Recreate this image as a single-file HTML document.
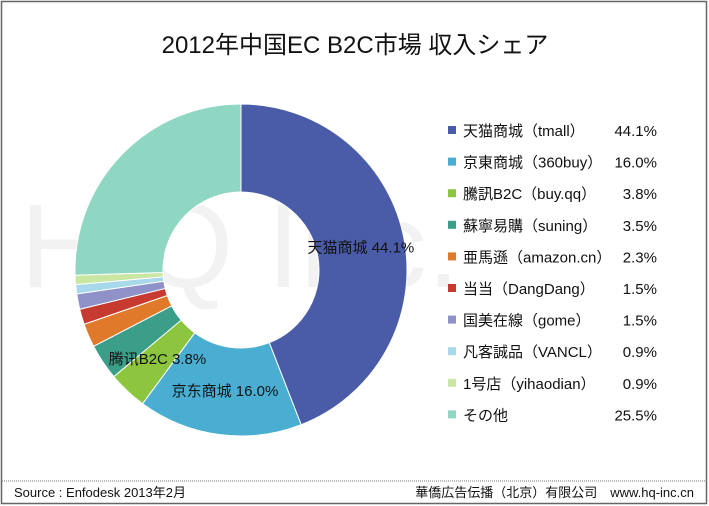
<!DOCTYPE html>
<html><head><meta charset="utf-8"><style>
body{margin:0;background:#fff;}
#wrap{position:relative;width:709px;height:506px;overflow:hidden;font-family:"Liberation Sans","Noto Sans CJK JP",sans-serif;}
</style></head><body>
<div id="wrap">
<svg id="svg" width="709" height="506" xmlns="http://www.w3.org/2000/svg">
<rect x="1.5" y="1.5" width="705" height="502" fill="#fff" stroke="#666" stroke-width="1.5"/>
<line x1="2" y1="481" x2="706" y2="481" stroke="#777" stroke-dasharray="1,1"/>
<text x="355" y="53" text-anchor="middle" font-size="24" fill="#111">2012年中国EC B2C市場 収入シェア</text>
<text x="20" y="287" font-size="120" fill="#000" fill-opacity="0.05">H Q   Inc.</text>
<g id="slices"></g>
<g id="labels" font-size="15" fill="#111"></g>
<g id="legend" font-size="15" fill="#111"></g>
<text x="14" y="497" font-size="13" fill="#111">Source : Enfodesk 2013年2月</text>
<text x="694" y="497" text-anchor="end" font-size="13" fill="#111">華僑広告伝播（北京）有限公司　www.hq-inc.cn</text>
</svg>
</div>
<script>
const categories=["天猫商城（tmall）","京東商城（360buy）","騰訊B2C（buy.qq）","蘇寧易購（suning）","亜馬遜（amazon.cn）","当当（DangDang）","国美在線（gome）","凡客誠品（VANCL）","1号店（yihaodian）","その他"];
const values=[44.1,16.0,3.8,3.5,2.3,1.5,1.5,0.9,0.9,25.5];
const valueLabels=["44.1%","16.0%","3.8%","3.5%","2.3%","1.5%","1.5%","0.9%","0.9%","25.5%"];
const sliceLabels=[["天猫商城 44.1%",0],["京东商城 16.0%",1],["腾讯B2C 3.8%",2]];
const colors=["#4a5ba8","#4aaed2","#8cc63e","#3a9e88","#e07a2a","#c63a30","#8e92c9","#a8d9ea","#c9e6a2","#8fd7c2"];
const NS="http://www.w3.org/2000/svg";
const cx=241,cy=270,R=166,r=78;
const total=values.reduce((a,b)=>a+b,0);
function ang(v){return v/total*2*Math.PI;}
function pt(a,rad){return [cx+rad*Math.sin(a),cy-rad*Math.cos(a)];}
const sg=document.getElementById('slices');
let a0=0;const mids=[];
values.forEach((v,i)=>{
  const a1=a0+ang(v);
  const [x1,y1]=pt(a0,R),[x2,y2]=pt(a1,R),[x3,y3]=pt(a1,r),[x4,y4]=pt(a0,r);
  const lg=(a1-a0)>Math.PI?1:0;
  const p=document.createElementNS(NS,'path');
  p.setAttribute('d',`M${x1},${y1}A${R},${R} 0 ${lg} 1 ${x2},${y2}L${x3},${y3}A${r},${r} 0 ${lg} 0 ${x4},${y4}Z`);
  p.setAttribute('fill',colors[i]);p.setAttribute('stroke','#fff');p.setAttribute('stroke-width','1');
  
  
  sg.appendChild(p);
  mids.push((a0+a1)/2);a0=a1;
});
const lg=document.getElementById('labels');
sliceLabels.forEach(([t,i])=>{
  const [x,y]=pt(mids[i],(R+r)/2);
  const tx=document.createElementNS(NS,'text');
  tx.setAttribute('x',x);tx.setAttribute('y',y+5);tx.setAttribute('text-anchor','middle');
  tx.textContent=t;
  
  
  lg.appendChild(tx);
});
const leg=document.getElementById('legend');
categories.forEach((c,i)=>{
  const y=131+i*31.6;
  const g=document.createElementNS(NS,'g');
  
  
  const s=document.createElementNS(NS,'rect');
  s.setAttribute('x',448);s.setAttribute('y',y-5);s.setAttribute('width',8);s.setAttribute('height',8);s.setAttribute('fill',colors[i]);
  g.appendChild(s);
  const t=document.createElementNS(NS,'text');t.setAttribute('x',463);t.setAttribute('y',y+5);t.textContent=c;g.appendChild(t);
  const v=document.createElementNS(NS,'text');v.setAttribute('x',657);v.setAttribute('y',y+5);v.setAttribute('text-anchor','end');v.textContent=valueLabels[i];g.appendChild(v);
  leg.appendChild(g);
});
</script>
</body></html>
